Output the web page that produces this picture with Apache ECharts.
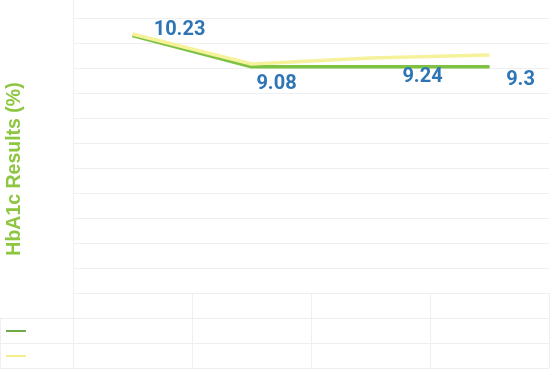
<!DOCTYPE html>
<html>
<head>
<meta charset="utf-8">
<script src="https://cdn.jsdelivr.net/npm/echarts@6/dist/echarts.min.js"></script>
<style>
html,body{margin:0;padding:0;background:#fff;}
#c{width:550px;height:370px;}
</style>
</head>
<body>
<div id="c"></div>
<script>
// ---- data ----
const categories = ['', '', '', ''];
const seriesNames = ['Series 1', 'Series 2'];
const greenValues = [10.30, 9.05, 9.05, 9.05];
const yellowValues = [10.36, 9.16, 9.40, 9.52];
const labelValues = ['10.23', '9.08', '9.24', '9.3'];
const yAxisTitle = 'HbA1c Results (%)';
const yMin = 0, yMax = 11, yStep = 1;
const tableRows = 3;
const keyRows = 2;

// ---- style ----
const gridColor = '#efefef';
const greenLine = '#7dc242';
const yellowLine = '#f6f29b';
const labelColor = '#2e75b6';
const labelOffsets = [[47, -6], [25, 17], [52, 10], [31, 13]];

const chart = echarts.init(document.getElementById('c'), null, {renderer: 'canvas'});

const option = {
  animation: false,
  grid: [
    {left: 73, right: 1, top: 18, bottom: 77},
    {left: 73, right: 1, top: 293, bottom: 2},
    {left: 0, width: 73, top: 318, bottom: 2}
  ],
  xAxis: [
    {gridIndex: 0, type: 'category', data: categories, boundaryGap: true,
     axisLine: {show: false}, axisTick: {show: false}, axisLabel: {show: false}, splitLine: {show: false}},
    {gridIndex: 1, type: 'category', data: categories, boundaryGap: true,
     axisLine: {show: false}, axisTick: {show: false}, axisLabel: {show: false},
     splitLine: {show: true, interval: 0, lineStyle: {color: gridColor, width: 1}}},
    {gridIndex: 2, type: 'value', show: false}
  ],
  yAxis: [
    {gridIndex: 0, type: 'value', min: yMin, max: yMax, interval: yStep,
     axisLine: {show: true, lineStyle: {color: gridColor}}, axisTick: {show: false}, axisLabel: {show: false},
     splitLine: {show: true, lineStyle: {color: gridColor, width: 1}}},
    {gridIndex: 1, type: 'value', min: 0, max: tableRows, interval: 1,
     axisLine: {show: true, lineStyle: {color: gridColor}}, axisTick: {show: false}, axisLabel: {show: false},
     splitLine: {show: true, lineStyle: {color: gridColor, width: 1}}},
    {gridIndex: 2, type: 'value', min: 0, max: keyRows, interval: 1,
     axisLine: {show: true, lineStyle: {color: gridColor}}, axisTick: {show: false}, axisLabel: {show: false},
     splitLine: {show: true, lineStyle: {color: gridColor, width: 1}}}
  ],
  legend: [
    {data: [{name: seriesNames[0], icon: 'rect', itemStyle: {color: '#70ad47'}}],
     left: 6, top: 330, itemWidth: 20, itemHeight: 2, padding: 0, selectedMode: false,
     textStyle: {fontSize: 1, color: 'rgba(0,0,0,0)'}},
    {data: [{name: seriesNames[1], icon: 'rect', itemStyle: {color: '#f4ef8a'}}],
     left: 6, top: 355, itemWidth: 20, itemHeight: 2, padding: 0, selectedMode: false,
     textStyle: {fontSize: 1, color: 'rgba(0,0,0,0)'}}
  ],
  graphic: [
    {type: 'line', shape: {x1: 73.5, y1: 0, x2: 73.5, y2: 18}, style: {stroke: gridColor, lineWidth: 1}},
    {type: 'text', x: 14.5, y: 169, rotation: Math.PI / 2,
     style: {text: yAxisTitle, fill: '#8dc63f', font: 'bold 19.5px "Liberation Sans", Arial, sans-serif',
             textAlign: 'center', textVerticalAlign: 'middle'}}
  ],
  series: [
    {name: seriesNames[0], type: 'line', xAxisIndex: 0, yAxisIndex: 0,
     data: greenValues.map((v, i) => ({value: v, label: {offset: labelOffsets[i]}})),
     symbol: 'circle', symbolSize: 1, showSymbol: true,
     itemStyle: {color: greenLine},
     lineStyle: {color: greenLine, width: 3.5},
     z: 2,
     label: {show: true, position: 'inside', color: labelColor,
             fontFamily: 'Roboto', fontWeight: 'bold', fontSize: 20,
             formatter: p => labelValues[p.dataIndex]}},
    {name: seriesNames[1], type: 'line', xAxisIndex: 0, yAxisIndex: 0,
     data: yellowValues, symbol: 'none',
     itemStyle: {color: yellowLine},
     lineStyle: {color: yellowLine, width: 3.5},
     z: 3}
  ]
};
chart.setOption(option);
</script>
</body>
</html>
